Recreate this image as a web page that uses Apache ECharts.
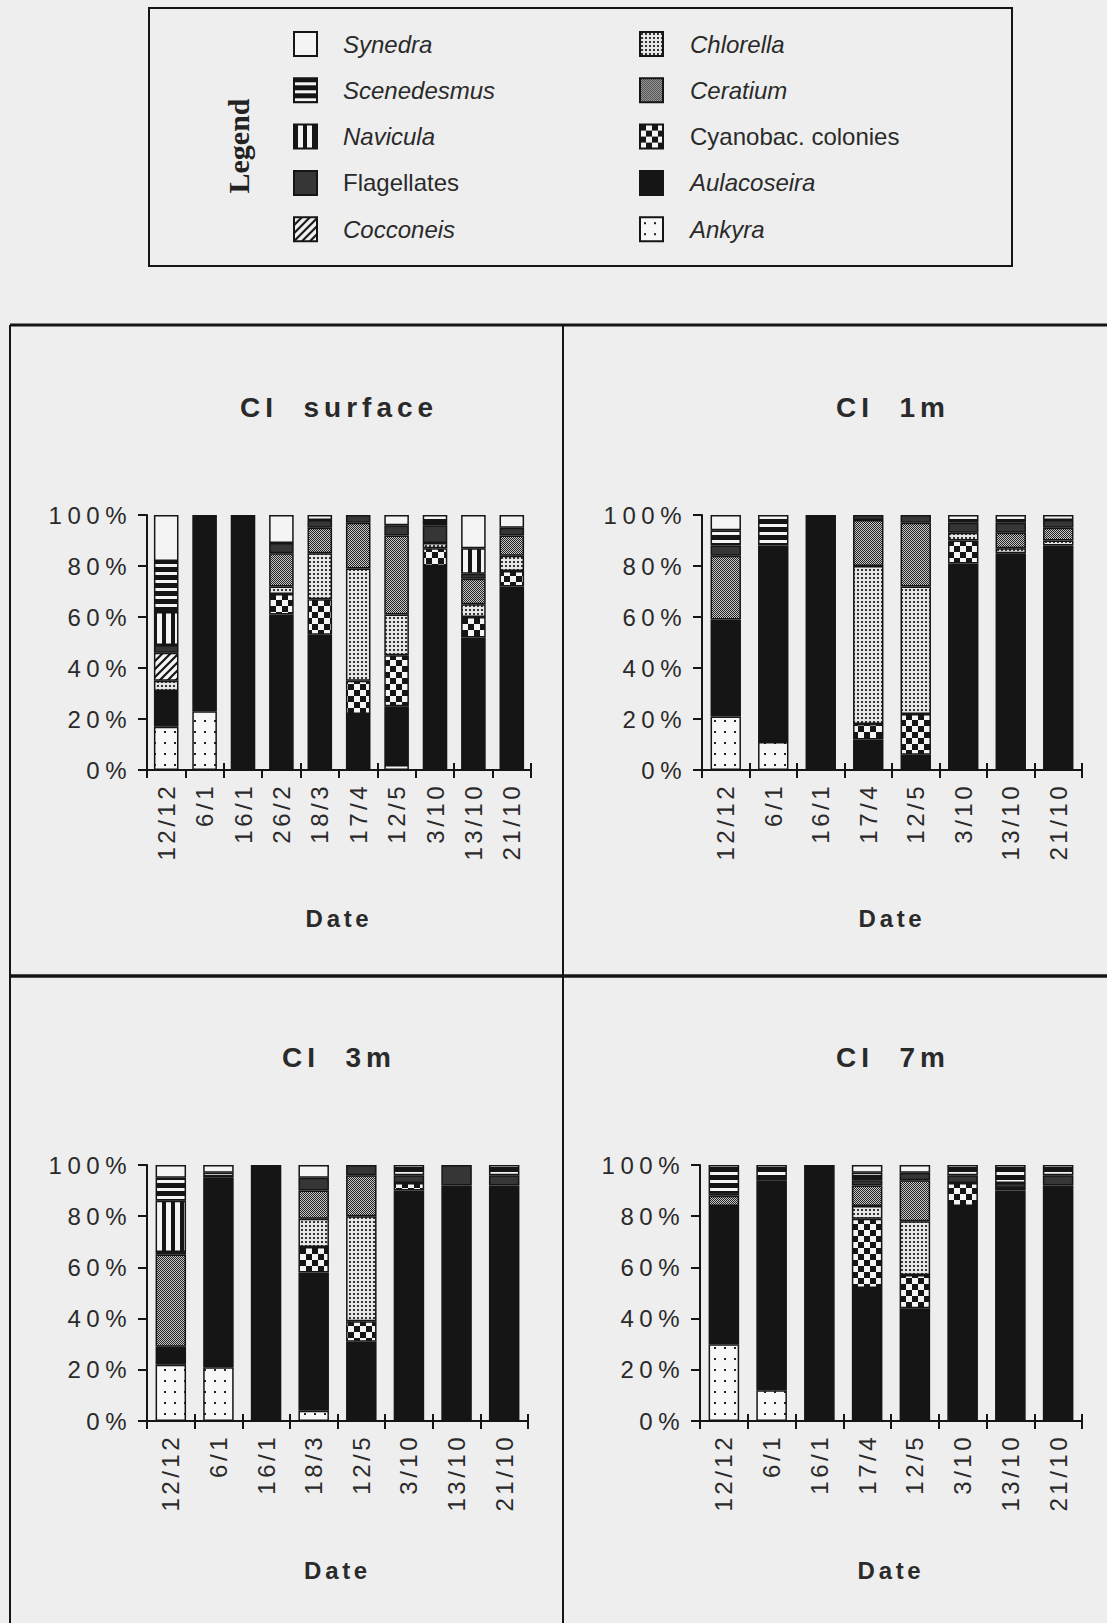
<!DOCTYPE html>
<html>
<head>
<meta charset="utf-8">
<script src="https://cdn.jsdelivr.net/npm/echarts@6/dist/echarts.min.js"></script>
<style>
html,body{margin:0;padding:0;background:#eeeeee;}
#chart{width:1107px;height:1623px;}
#chart svg text{white-space:pre;}
</style>
</head>
<body>
<div id="chart"></div>
<script>
// ---------------- DATA ----------------
const datesSurface = ['12/12','6/1','16/1','26/2','18/3','17/4','12/5','3/10','13/10','21/10'];
const dates1m      = ['12/12','6/1','16/1','17/4','12/5','3/10','13/10','21/10'];
const dates3m      = ['12/12','6/1','16/1','18/3','12/5','3/10','13/10','21/10'];
const dates7m      = ['12/12','6/1','16/1','17/4','12/5','3/10','13/10','21/10'];
const panelTitles  = ['CI  surface','CI  1m','CI  3m','CI  7m'];
const yTickValues  = [0,20,40,60,80,100];

// stacking order, bottom -> top
const species = ['Ankyra','Aulacoseira','Cyanobac. colonies','Chlorella','Ceratium','Cocconeis','Flagellates','Navicula','Scenedesmus','Synedra'];

// CI surface (% of cells)
const surfAnkyra      = [17, 23,   0,  0,  0,  0,  2,  0,  0,  0];
const surfAulacoseira = [14, 77, 100, 61, 53, 22, 23, 80, 52, 72];
const surfCyanobac    = [ 0,  0,   0,  8, 14, 13, 20,  7,  8,  6];
const surfChlorella   = [ 4,  0,   0,  3, 18, 44, 16,  2,  5,  6];
const surfCeratium    = [ 0,  0,   0, 13, 10, 18, 31,  0, 10,  8];
const surfCocconeis   = [11,  0,   0,  0,  0,  0,  0,  0,  0,  0];
const surfFlagellates = [ 3,  0,   0,  4,  3,  3,  4,  7,  2,  3];
const surfNavicula    = [13,  0,   0,  0,  0,  0,  0,  0, 10,  0];
const surfScenedesmus = [20,  0,   0,  0,  0,  0,  0,  4,  0,  0];
const surfSynedra     = [18,  0,   0, 11,  2,  0,  4,  0, 13,  5];

// CI 1m
const m1Ankyra      = [21, 11,   0,  0,  0,  0,  0,  0];
const m1Aulacoseira = [38, 77, 100, 12,  6, 81, 85, 88];
const m1Cyanobac    = [ 0,  0,   0,  6, 16,  9,  0,  0];
const m1Chlorella   = [ 0,  0,   0, 62, 50,  3,  2,  2];
const m1Ceratium    = [25,  0,   0, 18, 25,  0,  6,  5];
const m1Cocconeis   = [ 0,  0,   0,  0,  0,  0,  0,  0];
const m1Flagellates = [ 4,  0,   0,  2,  3,  4,  4,  3];
const m1Navicula    = [ 0,  0,   0,  0,  0,  0,  0,  0];
const m1Scenedesmus = [ 6, 12,   0,  0,  0,  3,  3,  2];
const m1Synedra     = [ 6,  0,   0,  0,  0,  0,  0,  0];

// CI 3m
const m3Ankyra      = [22, 21,   0,  4,  0,  0,  0,  0];
const m3Aulacoseira = [ 7, 74, 100, 54, 31, 90, 91, 91];
const m3Cyanobac    = [ 0,  0,   0, 10,  8,  3,  0,  0];
const m3Chlorella   = [ 0,  0,   0, 11, 41,  0,  1,  1];
const m3Ceratium    = [36,  0,   0, 11, 16,  0,  0,  0];
const m3Cocconeis   = [ 0,  0,   0,  0,  0,  0,  0,  0];
const m3Flagellates = [ 1,  0,   0,  5,  4,  3,  8,  4];
const m3Navicula    = [20,  0,   0,  0,  0,  0,  0,  0];
const m3Scenedesmus = [ 9,  2,   0,  0,  0,  4,  0,  4];
const m3Synedra     = [ 5,  3,   0,  5,  0,  0,  0,  0];

// CI 7m
const m7Ankyra      = [30, 12,   0,  0,  0,  0,  0,  0];
const m7Aulacoseira = [54, 82, 100, 52, 44, 84, 90, 91];
const m7Cyanobac    = [ 0,  0,   0, 27, 13,  9,  0,  0];
const m7Chlorella   = [ 0,  0,   0,  5, 21,  0,  1,  1];
const m7Ceratium    = [ 4,  0,   0,  8, 16,  0,  0,  0];
const m7Cocconeis   = [ 0,  0,   0,  0,  0,  0,  0,  0];
const m7Flagellates = [ 1,  0,   0,  2,  3,  3,  2,  4];
const m7Navicula    = [ 0,  0,   0,  0,  0,  0,  0,  0];
const m7Scenedesmus = [11,  6,   0,  3,  0,  4,  7,  4];
const m7Synedra     = [ 0,  0,   0,  3,  3,  0,  0,  0];

const legendLeft  = ['Synedra','Scenedesmus','Navicula','Flagellates','Cocconeis'];
const legendRight = ['Chlorella','Ceratium','Cyanobac. colonies','Aulacoseira','Ankyra'];
const uprightNames = ['Flagellates','Cyanobac. colonies'];

// ---------------- STYLE HELPERS ----------------
const FONT = "'Liberation Sans', Arial, Helvetica, sans-serif";
const INK = '#151515';
const TXT = '#2a2a2a';
const PAPER = '#f4f4f4';

function makePattern(w, h, draw) {
  const c = document.createElement('canvas');
  c.width = w; c.height = h;
  const ctx = c.getContext('2d');
  draw(ctx);
  return { image: c.toDataURL(), repeat: 'repeat', imageWidth: w, imageHeight: h };
}
const fills = {
  'Synedra': PAPER,
  'Scenedesmus': makePattern(6, 8, ctx => { ctx.fillStyle = INK; ctx.fillRect(0,0,6,8); ctx.fillStyle = PAPER; ctx.fillRect(0,4,6,3); }),
  'Navicula': makePattern(9, 4, ctx => { ctx.fillStyle = PAPER; ctx.fillRect(0,0,9,4); ctx.fillStyle = INK; ctx.fillRect(0,0,4,4); }),
  'Flagellates': '#363636',
  'Cocconeis': makePattern(8, 8, ctx => {
    ctx.fillStyle = PAPER; ctx.fillRect(0,0,8,8);
    ctx.strokeStyle = INK; ctx.lineWidth = 2.2;
    ctx.beginPath(); ctx.moveTo(-1,9); ctx.lineTo(9,-1); ctx.moveTo(-1,1); ctx.lineTo(1,-1); ctx.moveTo(7,9); ctx.lineTo(9,7); ctx.stroke();
  }),
  'Chlorella': makePattern(4, 4, ctx => { ctx.fillStyle = '#e6e6e6'; ctx.fillRect(0,0,4,4); ctx.fillStyle = '#333'; ctx.fillRect(1,1,2,2); }),
  'Ceratium': makePattern(2, 2, ctx => { ctx.fillStyle = '#c8c8c8'; ctx.fillRect(0,0,2,2); ctx.fillStyle = '#222'; ctx.fillRect(0,0,1,1); ctx.fillRect(1,1,1,1); }),
  'Cyanobac. colonies': makePattern(12, 12, ctx => { ctx.fillStyle = PAPER; ctx.fillRect(0,0,12,12); ctx.fillStyle = INK; ctx.fillRect(0,0,6,6); ctx.fillRect(6,6,6,6); }),
  'Aulacoseira': INK,
  'Ankyra': makePattern(10, 11, ctx => { ctx.fillStyle = '#f7f7f7'; ctx.fillRect(0,0,10,11); ctx.fillStyle = '#222'; ctx.fillRect(4,5,2,2); })
};

// ---------------- PANELS ----------------
const panels = [
  { dates: datesSurface, values: [surfAnkyra, surfAulacoseira, surfCyanobac, surfChlorella, surfCeratium, surfCocconeis, surfFlagellates, surfNavicula, surfScenedesmus, surfSynedra],
    grid: {left:147, top:515, width:384, height:255}, titleX: 339, titleY: 407, nameGap: 136 },
  { dates: dates1m, values: [m1Ankyra, m1Aulacoseira, m1Cyanobac, m1Chlorella, m1Ceratium, m1Cocconeis, m1Flagellates, m1Navicula, m1Scenedesmus, m1Synedra],
    grid: {left:702, top:515, width:380, height:255}, titleX: 893, titleY: 407, nameGap: 136 },
  { dates: dates3m, values: [m3Ankyra, m3Aulacoseira, m3Cyanobac, m3Chlorella, m3Ceratium, m3Cocconeis, m3Flagellates, m3Navicula, m3Scenedesmus, m3Synedra],
    grid: {left:147, top:1165, width:381, height:256}, titleX: 339, titleY: 1057, nameGap: 137 },
  { dates: dates7m, values: [m7Ankyra, m7Aulacoseira, m7Cyanobac, m7Chlorella, m7Ceratium, m7Cocconeis, m7Flagellates, m7Navicula, m7Scenedesmus, m7Synedra],
    grid: {left:700, top:1165, width:382, height:256}, titleX: 893, titleY: 1057, nameGap: 137 }
];

const grid = [], xAxis = [], yAxis = [], series = [], title = [];
panels.forEach((p, i) => {
  grid.push(Object.assign({ containLabel: false }, p.grid));
  title.push({
    text: panelTitles[i], left: p.titleX, top: p.titleY, textAlign: 'center', textVerticalAlign: 'middle', padding: 0,
    textStyle: { fontFamily: FONT, fontSize: 28, fontWeight: 'bold', color: TXT }
  });
  yAxis.push({
    type: 'value', gridIndex: i, min: yTickValues[0], max: yTickValues[yTickValues.length - 1], interval: 20,
    splitLine: { show: false },
    axisLine: { show: true, lineStyle: { color: INK, width: 2 } },
    axisTick: { show: true, length: 9, lineStyle: { color: INK, width: 2 } },
    axisLabel: { formatter: '{value}%', fontFamily: FONT, fontSize: 24, color: TXT, margin: 15 }
  });
});
panels.forEach((p, i) => {
  xAxis.push({
    type: 'category', gridIndex: i, data: p.dates, position: 'bottom',
    name: 'Date', nameLocation: 'middle', nameGap: p.nameGap,
    nameTextStyle: { fontFamily: FONT, fontSize: 24, fontWeight: 'bold', color: TXT },
    axisLine: { show: true, lineStyle: { color: INK, width: 2 } },
    axisTick: { show: true, length: 8, lineStyle: { color: INK, width: 2 } },
    axisLabel: { rotate: 90, interval: 0, fontFamily: FONT, fontSize: 24, color: TXT, margin: 13 }
  });
});
panels.forEach((p, i) => {
  // second overlay axis: tick marks that cross to the inside
  xAxis.push({
    type: 'category', gridIndex: i, data: p.dates, position: 'bottom',
    axisLine: { show: false }, axisLabel: { show: false },
    axisTick: { show: true, inside: true, length: 7, lineStyle: { color: INK, width: 2 } }
  });
});
panels.forEach((p, i) => {
  species.forEach((name, k) => {
    series.push({
      type: 'bar', name: name, stack: 'panel' + i, xAxisIndex: i, yAxisIndex: i,
      barWidth: '64%', silent: true, animation: false,
      emphasis: { disabled: true },
      itemStyle: { color: fills[name], borderColor: INK, borderWidth: 1.5 },
      data: p.values[k].map(v => (v === 0 ? '-' : v))
    });
  });
});

function legendData(names) {
  return names.map(n => ({ name: n, textStyle: { fontStyle: uprightNames.includes(n) ? 'normal' : 'italic' } }));
}
const legendCommon = {
  orient: 'vertical', top: 31, padding: 0, itemWidth: 23, itemHeight: 24, itemGap: 20.3,
  icon: 'rect', selectedMode: false,
  itemStyle: { borderColor: INK, borderWidth: 2 }
};
const legend = [
  Object.assign({}, legendCommon, { left: 293, data: legendData(legendLeft),
    textStyle: { fontFamily: FONT, fontSize: 24, color: TXT, padding: [0,0,0,21] } }),
  Object.assign({}, legendCommon, { left: 639, data: legendData(legendRight),
    textStyle: { fontFamily: FONT, fontSize: 24, color: TXT, padding: [0,0,0,22] } })
];

const graphic = [
  { type: 'rect', silent: true, shape: { x: 149, y: 8, width: 863, height: 258 }, style: { fill: 'none', stroke: INK, lineWidth: 2 } },
  { type: 'text', silent: true, x: 238, y: 146, rotation: Math.PI / 2,
    style: { text: 'Legend', font: "bold 30px 'Liberation Serif', 'Times New Roman', serif", fill: '#222', align: 'center', verticalAlign: 'middle' } },
  { type: 'line', silent: true, shape: { x1: 10, y1: 325, x2: 1107, y2: 325 }, style: { stroke: INK, lineWidth: 3 } },
  { type: 'line', silent: true, shape: { x1: 10, y1: 325, x2: 10, y2: 1623 }, style: { stroke: INK, lineWidth: 2 } },
  { type: 'line', silent: true, shape: { x1: 563, y1: 325, x2: 563, y2: 1623 }, style: { stroke: INK, lineWidth: 2 } },
  { type: 'line', silent: true, shape: { x1: 10, y1: 976, x2: 1107, y2: 976 }, style: { stroke: INK, lineWidth: 3.5 } }
];

const chart = echarts.init(document.getElementById('chart'), null, { renderer: 'svg' });
chart.setOption({
  backgroundColor: '#eeeeee',
  animation: false,
  title, legend, grid, xAxis, yAxis, series, graphic
});

function applySpacing() {
  document.querySelectorAll('#chart svg text').forEach(t => {
    const s = t.textContent.trim();
    let ls = 0;
    if (/%$/.test(s)) ls = 5.5;
    else if (s.indexOf('/') >= 0) ls = 3.5;
    else if (s.indexOf('CI') === 0) ls = 5;
    else if (s === 'Date') ls = 3.7;
    t.style.letterSpacing = ls + 'px';
  });
}
chart.on('finished', applySpacing);
setTimeout(applySpacing, 30);
setTimeout(applySpacing, 300);
</script>
</body>
</html>
